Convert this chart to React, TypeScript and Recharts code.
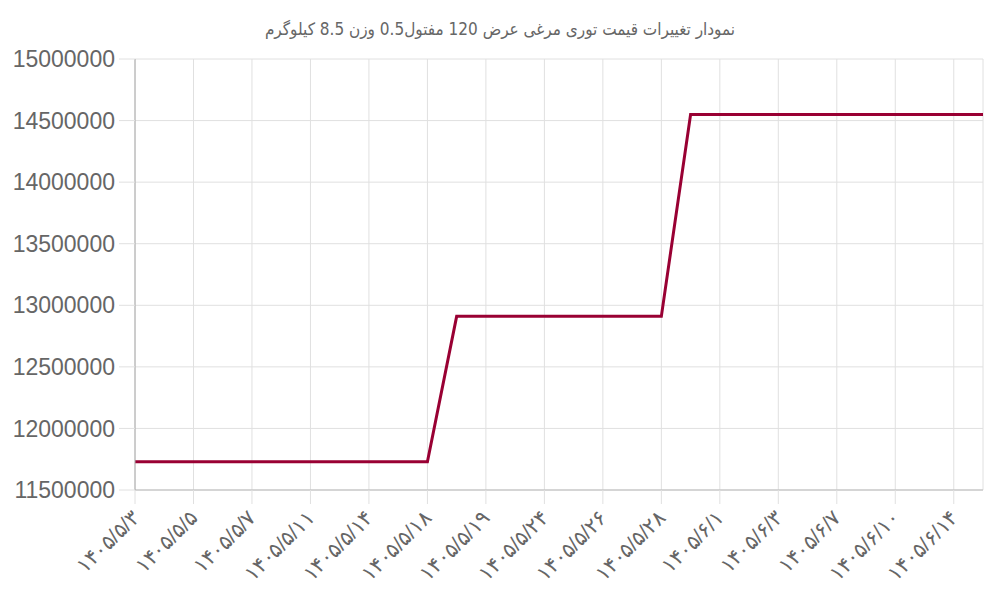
import React from "react";
import { LineChart, Line, XAxis, YAxis, CartesianGrid } from "recharts";

const title = "نمودار تغییرات قیمت توری مرغی عرض 120 مفتول0.5 وزن 8.5 کیلوگرم";

const dates = [
  "۱۴۰۵/۵/۳", "۱۴۰۵/۵/۴", "۱۴۰۵/۵/۵", "۱۴۰۵/۵/۶", "۱۴۰۵/۵/۷", "۱۴۰۵/۵/۱۰",
  "۱۴۰۵/۵/۱۱", "۱۴۰۵/۵/۱۲", "۱۴۰۵/۵/۱۴", "۱۴۰۵/۵/۱۷", "۱۴۰۵/۵/۱۸", "۱۴۰۵/۵/۱۹",
  "۱۴۰۵/۵/۱۹", "۱۴۰۵/۵/۲۱", "۱۴۰۵/۵/۲۴", "۱۴۰۵/۵/۲۵", "۱۴۰۵/۵/۲۶", "۱۴۰۵/۵/۲۷",
  "۱۴۰۵/۵/۲۸", "۱۴۰۵/۵/۳۱", "۱۴۰۵/۶/۱", "۱۴۰۵/۶/۲", "۱۴۰۵/۶/۳", "۱۴۰۵/۶/۵",
  "۱۴۰۵/۶/۷", "۱۴۰۵/۶/۹", "۱۴۰۵/۶/۱۰", "۱۴۰۵/۶/۱۲", "۱۴۰۵/۶/۱۴", "۱۴۰۵/۶/۱۶",
];

const prices = [
  11730000, 11730000, 11730000, 11730000, 11730000, 11730000,
  11730000, 11730000, 11730000, 11730000, 11730000, 12910000,
  12910000, 12910000, 12910000, 12910000, 12910000, 12910000,
  12910000, 14550000, 14550000, 14550000, 14550000, 14550000,
  14550000, 14550000, 14550000, 14550000, 14550000, 14550000,
];

const yTicks = [11500000, 12000000, 12500000, 13000000, 13500000, 14000000, 14500000, 15000000];

const data = dates.map((d, i) => ({ date: d, price: prices[i] }));

const font = "'Liberation Sans', Arial, sans-serif";

function DateTick(props: any) {
  const { x, y, payload } = props;
  return (
    <g transform={`translate(${x},${y + 8})`}>
      <text
        transform="rotate(-45)"
        textAnchor="end"
        dominantBaseline="central"
        fill="#666"
        fontSize={21}
        fontFamily={font}
      >
        {payload.value}
      </text>
    </g>
  );
}

export default function App() {
  return (
    <div style={{ position: "absolute", left: 0, top: 0, width: 1000, height: 600, background: "#fff" }}>
      <div
        style={{
          position: "absolute",
          top: 19,
          left: 0,
          width: 1000,
          textAlign: "center",
          fontFamily: "'DejaVu Sans Condensed', 'Noto Sans', sans-serif",
          fontSize: 17,
          color: "#666",
          direction: "rtl",
        }}
      >
        {title}
      </div>
      <LineChart width={1000} height={600} data={data} margin={{ top: 59, right: 17, bottom: 0, left: 0 }}>
        <CartesianGrid stroke="#e0e0e0" strokeWidth={1} />
        <XAxis
          dataKey="date"
          interval={1}
          height={110}
          tick={<DateTick />}
          tickSize={14}
          tickLine={{ stroke: "#e0e0e0" }}
          axisLine={{ stroke: "#bbb" }}
        />
        <YAxis
          width={135}
          domain={[11500000, 15000000]}
          ticks={yTicks}
          tickSize={16}
          tickLine={{ stroke: "#e0e0e0" }}
          axisLine={{ stroke: "#aaa" }}
          tick={{ fill: "#666", fontSize: 23, fontFamily: font }}
          tickMargin={4}
        />
        <Line
          type="linear"
          dataKey="price"
          stroke="#990033"
          strokeWidth={3}
          dot={false}
          isAnimationActive={false}
        />
      </LineChart>
    </div>
  );
}
